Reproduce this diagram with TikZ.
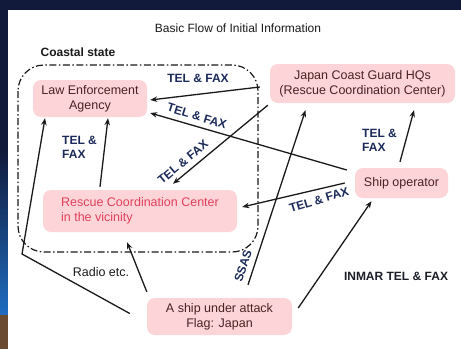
\documentclass[tikz,border=0pt]{standalone}
\usepackage{fontspec}
\setmainfont{Liberation Sans}
\usetikzlibrary{arrows.meta,calc}
\definecolor{navybg}{HTML}{111A3A}
\definecolor{bluebg}{HTML}{1F6CC0}
\definecolor{brownbg}{HTML}{6A4A30}
\definecolor{boxpink}{HTML}{FDD5D8}
\definecolor{boxtext}{HTML}{4A2222}
\definecolor{rcctext}{HTML}{E0405A}
\definecolor{labnavy}{HTML}{1C2A5A}
\definecolor{linecol}{HTML}{1A1A1A}
\begin{document}
\begin{tikzpicture}[x=1pt,y=-1pt,
  box/.style={fill=boxpink, rounded corners=8pt, inner sep=0pt, align=center,
    text=boxtext, font=\fontsize{12.5}{15}\selectfont},
  lab/.style={font=\fontsize{12}{14}\selectfont\bfseries, text=labnavy, inner sep=0pt},
  plain/.style={font=\fontsize{12.5}{14}\selectfont, text=linecol, inner sep=0pt},
  conn/.style={draw=linecol, line width=1.3pt, -{Stealth[length=7pt,width=5.5pt]}},
  border/.style={draw=linecol, line width=1.2pt, rounded corners=26pt,
    dash pattern=on 7pt off 2.5pt on 1.5pt off 2.5pt}]
% background
\fill[navybg] (0,0) rectangle (461,349);
\shade[top color=navybg, bottom color=bluebg] (0,150) rectangle (8,315);
\fill[brownbg] (0,315) rectangle (8,349);
\fill[white] (8,10) rectangle (461,349);
\useasboundingbox (0,0) rectangle (461,349);
% titles
\node[font=\fontsize{12}{14}\selectfont, text=linecol] (title) at (238,28) {Basic Flow of Initial Information};
\node[font=\fontsize{12}{14}\selectfont\bfseries, text=linecol] (coastal) at (78,52) {Coastal state};
% coastal state border
\draw[border] (18,65) rectangle (258,252);
% boxes
\node[box, minimum width=114pt, minimum height=37pt] (lea) at (90,98.5) {Law Enforcement\\Agency};
\node[box, minimum width=185pt, minimum height=39pt] (jcg) at (362.5,83.5) {Japan Coast Guard HQs\\(Rescue Coordination Center)};
\node[box, minimum width=194pt, minimum height=42pt, text=rcctext, align=left] (rcc) at (140,211)
  {Rescue Coordination Center\\in the vicinity};
\node[box, minimum width=93pt, minimum height=30pt] (shipop) at (401.5,183) {Ship operator};
\node[box, minimum width=145pt, minimum height=37pt] (ship) at (219.5,316.5) {A ship under attack\\Flag: Japan};
% connectors
\draw[conn] ($(jcg.west)+(-10,3.5)$) -- ($(lea.east)+(3,1.5)$);
\draw[conn] ($(shipop.west)+(-8,-13)$) -- ($(lea.east)+(3,14.5)$);
\draw[conn] ($(jcg.south west)+(-2,2)$) -- ($(rcc.north)+(33,-6)$);
\draw[conn] ($(shipop.west)+(-10,0)$) -- ($(rcc.east)+(5,-4)$);
\draw[conn] ($(rcc.north)+(-40,-3)$) -- ($(lea.south)+(18,1)$);
\draw[conn] ($(shipop.north)+(-1.5,-6)$) -- ($(jcg.south)+(51.5,7)$);
\coordinate (bend) at (22,254);
\draw[conn] ($(ship.west)+(-17,-3)$) -- (bend) -- ($(lea.south)+(-45,1)$);
\draw[conn] ($(ship.north west)+(0,-6)$) -- ($(rcc.south)+(-13,10)$);
\draw[conn] ($(ship.north)+(28.5,-13)$) -- ($(jcg.south)+(-57,7)$);
\draw[conn] ($(ship.east)+(6,-8.5)$) -- ($(shipop.south)+(-30,3)$);
% labels
\node[lab] (l1) at (198,78) {TEL \& FAX};
\node[lab, rotate=-17] (l2) at (197,116) {TEL \& FAX};
\node[lab, rotate=40] (l3) at (183,162) {TEL \& FAX};
\node[lab, rotate=17] (l4) at (319,200) {TEL \& FAX};
\node[lab, align=left, anchor=west] (l5) at (62,147) {TEL \&\\FAX};
\node[lab, align=left, anchor=west] (l6) at (362,140) {TEL \&\\FAX};
\node[lab, rotate=72] (l7) at (243,266) {SSAS};
\node[plain] (l8) at (101,272) {Radio etc.};
\node[lab, text=linecol!80!labnavy] (l9) at (396,276) {INMAR TEL \& FAX};
\end{tikzpicture}
\end{document}
